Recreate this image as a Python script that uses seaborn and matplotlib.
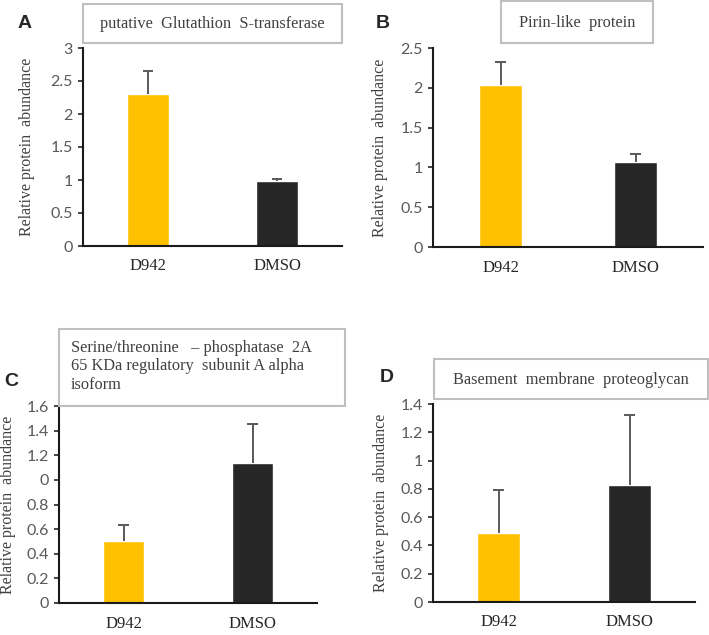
"""Relative protein abundance, D942 vs DMSO, four proteins (panels A-D)."""

import matplotlib.pyplot as plt
import pandas as pd
import seaborn as sns
from matplotlib.patches import Rectangle

GROUPS = ["D942", "DMSO"]
GROUP_COLORS = {"D942": "#FFC000", "DMSO": "#262626"}

PANEL_LETTERS = ["A", "B", "C", "D"]
PANEL_TITLES = [
    "putative  Glutathion  S-transferase",
    "Pirin-like  protein",
    "Serine/threonine   \u2013 phosphatase  2A\n65 KDa regulatory  subunit A alpha\nisoform",
    "Basement  membrane  proteoglycan",
]
MEANS = [
    [2.31, 0.99],
    [2.03, 1.07],
    [0.50, 1.14],
    [0.49, 0.83],
]
ERRORS = [
    [0.34, 0.03],
    [0.30, 0.10],
    [0.13, 0.31],
    [0.30, 0.49],
]
Y_TICKS = [
    [0, 0.5, 1, 1.5, 2, 2.5, 3],
    [0, 0.5, 1, 1.5, 2, 2.5],
    [0, 0.2, 0.4, 0.6, 0.8, 1.0, 1.2, 1.4, 1.6],
    [0, 0.2, 0.4, 0.6, 0.8, 1.0, 1.2, 1.4],
]
# tick text as printed in the figure (panel C really shows "0" at 1.0)
Y_TICK_LABELS = [
    ["0", "0.5", "1", "1.5", "2", "2.5", "3"],
    ["0", "0.5", "1", "1.5", "2", "2.5"],
    ["0", "0.2", "0.4", "0.6", "0.8", "0", "1.2", "1.4", "1.6"],
    ["0", "0.2", "0.4", "0.6", "0.8", "1", "1.2", "1.4"],
]

W, H = 709, 635

# layout in pixels: axes (left, right, top, bottom), title box (x0, x1, y0, y1)
AX_PX = [(83, 342, 48, 246), (433, 703, 48, 247), (59, 317, 406, 603), (433, 695, 404, 602)]
BOX_PX = [(83, 342, 4, 43), (501, 653, 1, 43), (59, 345, 329, 406), (434, 708, 359, 399)]
LETTER_PX = [(25, 23), (383, 23), (11, 382), (387, 378)]
YLABEL_RIGHT_PX = [35, 388, 16, 389]

SERIF = ["Liberation Serif", "DejaVu Serif"]
SANS = ["Lato", "DejaVu Sans"]
ERR_COLOR = "#595959"


def draw_panel(fig, i):
    l, r, t, b = AX_PX[i]
    ax = fig.add_axes([l / W, 1 - b / H, (r - l) / W, (b - t) / H])
    df = pd.DataFrame({"group": GROUPS, "value": MEANS[i], "err": ERRORS[i]})
    df["top"] = df["value"] + df["err"]
    df["pos"] = range(len(GROUPS))
    sns.barplot(
        data=df, x="group", y="value", hue="group", palette=GROUP_COLORS,
        legend=False, width=0.325, ax=ax, saturation=1, zorder=2,
    )
    # upper-only error bars with a single cap
    ax.vlines(df["pos"], df["value"], df["top"], color=ERR_COLOR, linewidth=1.4, zorder=3)
    ax.hlines(df["top"], df["pos"] - 0.04, df["pos"] + 0.04, color=ERR_COLOR,
              linewidth=1.4, zorder=3)
    ax.set_xlim(-0.5, 1.5)
    ax.set_ylim(Y_TICKS[i][0], Y_TICKS[i][-1])
    ax.set_yticks(Y_TICKS[i])
    ax.set_yticklabels(Y_TICK_LABELS[i], fontsize=11.5, color="#595959", family=SANS)
    ax.set_xticks(range(len(GROUPS)))
    ax.set_xticklabels(GROUPS, fontsize=12, color="#262626", family=SERIF)
    ax.tick_params(axis="x", length=0, pad=9)
    ax.tick_params(axis="y", length=3.5, width=1.2, color="#262626", pad=4)
    ax.set_xlabel("")
    ax.set_ylabel("Relative protein  abundance", fontsize=11.5, color="#404040", family=SERIF)
    ax.yaxis.set_label_coords((YLABEL_RIGHT_PX[i] - l) / (r - l), 0.5)
    for side in ("top", "right"):
        ax.spines[side].set_visible(False)
    for side in ("left", "bottom"):
        ax.spines[side].set_color("#1a1a1a")
        ax.spines[side].set_linewidth(1.5)
        ax.spines[side].set_zorder(4)

    x0, x1, y0, y1 = BOX_PX[i]
    fig.patches.append(Rectangle(
        (x0 / W, 1 - y1 / H), (x1 - x0) / W, (y1 - y0) / H,
        transform=fig.transFigure, facecolor="white", edgecolor="#BFBFBF", linewidth=1.5,
    ))
    if "\n" in PANEL_TITLES[i]:
        fig.text((x0 + 12) / W, 1 - ((y0 + y1) / 2 - 1) / H, PANEL_TITLES[i], ha="left",
                 va="center", fontsize=11.8, color="#404040", family=SERIF, linespacing=1.22)
    else:
        fig.text(((x0 + x1) / 2) / W, 1 - ((y0 + y1) / 2 + 1) / H, PANEL_TITLES[i], ha="center",
                 va="center", fontsize=11.8, color="#404040", family=SERIF)

    lx, ly = LETTER_PX[i]
    fig.text(lx / W, 1 - ly / H, PANEL_LETTERS[i], ha="center", va="center",
             fontsize=14, fontweight="bold", family=["Liberation Sans", "DejaVu Sans"])


def main():
    sns.set_style("ticks")
    fig = plt.figure(figsize=(W / 100, H / 100), dpi=100)
    for i in range(len(PANEL_LETTERS)):
        draw_panel(fig, i)
    fig.savefig("out.png", dpi=100, facecolor="white")
    plt.close(fig)


if __name__ == "__main__":
    main()
